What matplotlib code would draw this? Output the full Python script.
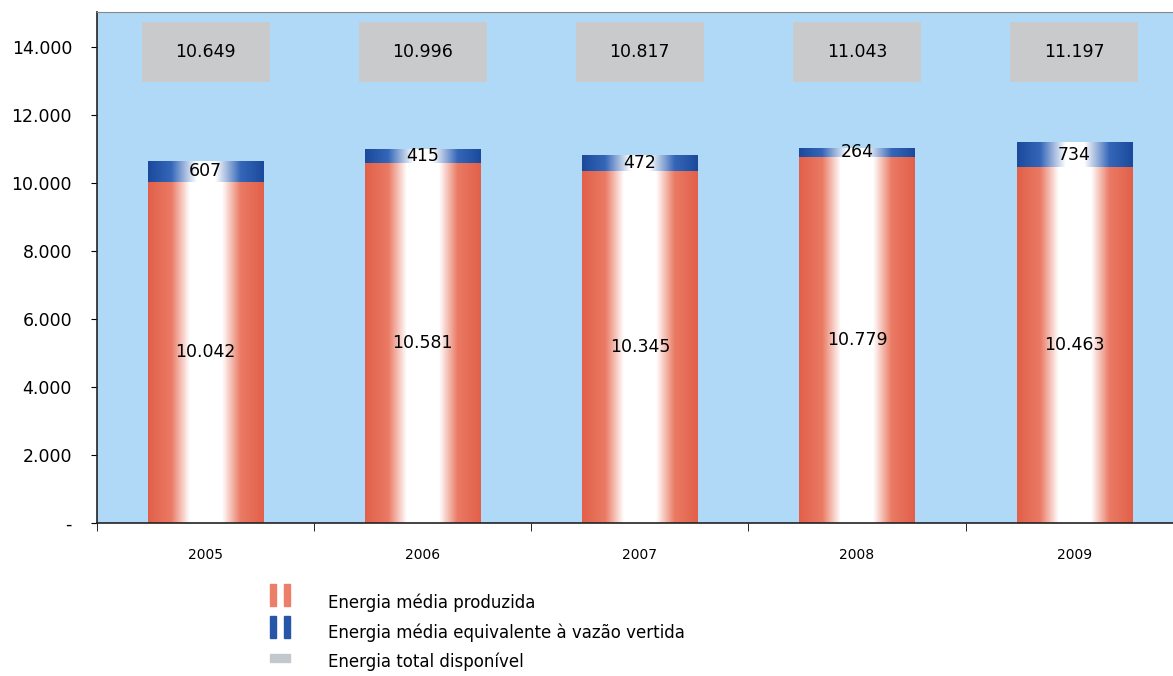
import numpy as np
import matplotlib
matplotlib.use("Agg")
import matplotlib.pyplot as plt
from matplotlib.colors import LinearSegmentedColormap
from matplotlib.patches import Rectangle
from matplotlib.ticker import FuncFormatter

anos = ["2005", "2006", "2007", "2008", "2009"]
produzida = [10042, 10581, 10345, 10779, 10463]
vertida = [607, 415, 472, 264, 734]
total = [10649, 10996, 10817, 11043, 11197]

legenda = ["Energia média produzida",
           "Energia média equivalente à vazão vertida",
           "Energia total disponível"]

FUNDO = "#AFD9F6"
CINZA = "#C8CACC"

# gradientes: borda escura -> centro branco -> borda escura
cm_red = LinearSegmentedColormap.from_list(
    "red", [(0, "#E2604A"), (0.2, "#EA7A64"), (0.36, "#FFFFFF"),
            (0.64, "#FFFFFF"), (0.8, "#EA7A64"), (1, "#E2604A")])
cm_blue = LinearSegmentedColormap.from_list(
    "blue", [(0, "#1B4A9C"), (0.2, "#3566B8"), (0.42, "#FFFFFF"),
             (0.58, "#FFFFFF"), (0.8, "#3566B8"), (1, "#1B4A9C")])
grad = np.linspace(0, 1, 256).reshape(1, -1)

fig = plt.figure(figsize=(11.73, 6.76), dpi=100)
ax = fig.add_axes([97 / 1173, 1 - 523 / 676, 1090 / 1173, 511 / 676])
ax.set_facecolor(FUNDO)

x = np.arange(len(anos))
w = 0.53


def gradient_bar(xc, bottom, height, cmap):
    bars = ax.bar(xc, height, w, bottom=bottom, color="none", linewidth=0, zorder=2)
    for b in bars:
        im = ax.imshow(grad, cmap=cmap, aspect="auto", zorder=2,
                       extent=[b.get_x(), b.get_x() + b.get_width(),
                               b.get_y(), b.get_y() + b.get_height()])
        im.set_clip_path(b)
    return bars


gradient_bar(x, 0, produzida, cm_red)
gradient_bar(x, produzida, vertida, cm_blue)

# caixas cinza com o total no topo
ax.bar(x, 1760, 0.59, bottom=12970, color=CINZA, linewidth=0, zorder=2)

for i in range(len(anos)):
    ax.text(x[i], produzida[i] / 2, f"{produzida[i]:,}".replace(",", "."),
            ha="center", va="center", fontsize=12.5, zorder=3)
    ax.text(x[i], produzida[i] + vertida[i] / 2, str(vertida[i]),
            ha="center", va="center", fontsize=12.5, zorder=3)
    ax.text(x[i], 13850, f"{total[i]:,}".replace(",", "."),
            ha="center", va="center", fontsize=12.5, zorder=3)

ax.set_xlim(-0.5, len(anos) - 0.5 + 0.02)
ax.set_ylim(0, 15030)
ax.set_yticks(range(0, 14001, 2000))
ax.yaxis.set_major_formatter(FuncFormatter(
    lambda v, p: "-" if v == 0 else f"{int(v):,}".replace(",", ".")))
ax.tick_params(axis="y", labelsize=12.5, length=4, pad=14)
ax.set_xticks(x)
ax.set_xticklabels(anos, fontsize=10)
ax.set_xticks(np.arange(len(anos) + 1) - 0.5, minor=True)
ax.tick_params(axis="x", which="major", length=0, pad=18)
ax.tick_params(axis="x", which="minor", length=6)

for s in ["left", "bottom"]:
    ax.spines[s].set_color("#222222")
    ax.spines[s].set_linewidth(1.2)
ax.spines["top"].set_color("#888888")
ax.spines["right"].set_visible(False)

# legenda
def legend_icon(y0, c, full=False):
    if full:
        fig.patches.append(Rectangle((270 / 1173, y0), 20 / 1173, 8 / 676,
                                     transform=fig.transFigure, color=c))
    else:
        for xl in (270, 284):
            fig.patches.append(Rectangle((xl / 1173, y0), 6 / 1173, 22 / 676,
                                         transform=fig.transFigure, color=c))

legend_icon(1 - 606 / 676, "#EC7F6A")
legend_icon(1 - 638 / 676, "#2556A8")
legend_icon(1 - 662 / 676, "#C2C8CC", full=True)
for yy, t in zip([603, 633, 662], legenda):
    fig.text(328 / 1173, 1 - yy / 676, t, fontsize=12, va="center")

fig.savefig("out.png", dpi=100)
